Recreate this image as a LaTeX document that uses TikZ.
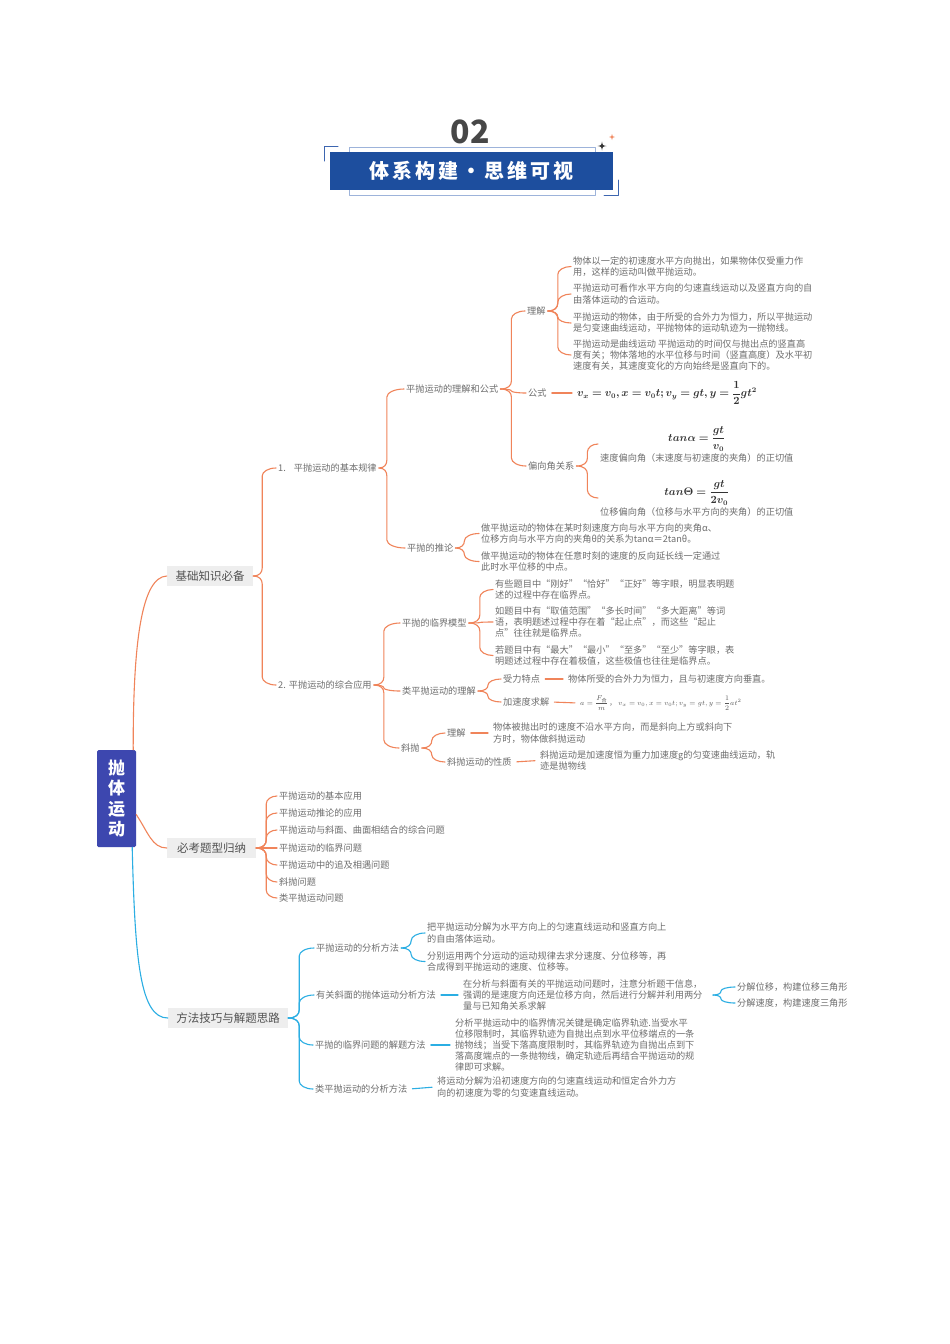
\documentclass[tikz,border=0pt]{standalone}
\usepackage{amsmath}
\usepackage{bm}
\usepackage[no-math]{fontspec}
\setmainfont{Noto Sans CJK SC}
\usetikzlibrary{calc}
\definecolor{orn}{HTML}{F0845A}
\definecolor{cyb}{HTML}{2BAEE3}
\definecolor{rootc}{HTML}{3D47AF}
\definecolor{hdr}{HTML}{1D4E9E}
\definecolor{hdrl}{HTML}{3D66B0}
\definecolor{frm}{HTML}{9DB3DA}
\definecolor{boxg}{HTML}{EEEEEE}
\definecolor{txg}{HTML}{6E6E6E}
\newcommand\fs{\fontsize{9.2}{11.2}\selectfont}
\newcommand\hsp{\hspace{3pt}}
\newcommand\fm{\fontsize{10.5}{12}\selectfont}
\begin{document}
\begin{tikzpicture}[x=1pt,y=-1pt,line cap=round,line join=round,
  tx/.style={anchor=west,inner sep=2pt,text=txg,font=\fs,align=left},
  gb/.style={fill=boxg,text=black!68,font=\fontsize{11.5}{13}\selectfont,inner sep=0pt,minimum height=20pt},
  ol/.style={orn,line width=1.1pt},
  bl/.style={cyb,line width=1.1pt},
  sl/.style={shorten <=3pt,shorten >=3pt},
  br/.style={to path={let \p1=(\tikztostart),\p2=(\tikztotarget),
     \n1={abs(\y2-\y1)},\n2={min(\n1/2,8)},\n3={sign(\y2-\y1)} in
     (\p1) .. controls ({\x1+0.7*#1},\y1) and ({\x1+#1},{\y1+0.45*\n3*\n2}) ..
     ({\x1+#1},{\y1+\n3*\n2}) -- ({\x1+#1},{\y2-\n3*\n2})
     .. controls ({\x1+#1},{\y2-0.45*\n3*\n2}) and ({\x1+#1+0.45*(\x2-\x1-#1)},\y2) .. (\p2)}},
  br/.default=9]
\useasboundingbox (0,0) rectangle (950,1344);
\fill[white] (0,0) rectangle (950,1344);

% ---------- header ----------
\draw[frm,line width=0.8pt] (349,147) rectangle (595,195);
\node[fill=hdr,minimum width=283pt,minimum height=38pt,inner sep=0pt,text=white,
  font=\fontsize{20}{20}\selectfont\bfseries] (ttl) at (471.5,171)
  {体\hsp 系\hsp 构\hsp 建\hsp ・\hsp 思\hsp 维\hsp 可\hsp 视};
\node[font=\fontsize{32}{32}\selectfont\bfseries,text=black!72,inner sep=0pt] (num) at (470,132) {02};
\draw[hdrl,line width=1pt] (338,146) -- (324,146) -- (324,161);
\draw[hdrl,line width=1pt] (618,180) -- (618,195) -- (604,195);
\fill[black!80] (602,141.5) .. controls (602.6,145.4) .. (606.5,146) .. controls (602.6,146.6) .. (602,150.5)
  .. controls (601.4,146.6) .. (597.5,146) .. controls (601.4,145.4) .. (602,141.5) -- cycle;
\fill[orn] (612,134) .. controls (612.4,136.6) .. (615,137) .. controls (612.4,137.4) .. (612,140)
  .. controls (611.6,137.4) .. (609,137) .. controls (611.6,136.6) .. (612,134) -- cycle;

% ---------- root and main branches ----------
\node[fill=rootc,rounded corners=1.5pt,minimum width=39pt,minimum height=97pt,inner sep=0pt,
  text=white,align=center,font=\fontsize{17}{20.5}\selectfont\bfseries] (rt) at (116.5,798.5) {抛\\体\\运\\动};
\node[gb,minimum width=86pt] (jc) at (210,576) {基础知识必备};
\node[gb,minimum width=89pt] (bk) at (211.5,848) {必考题型归纳};
\node[gb,minimum width=120pt] (ff) at (228,1018) {方法技巧与解题思路};
\draw[ol] ([xshift=-3pt]rt.north east) .. controls (133,640) and (142,577) .. (jc.west);
\draw[ol] ([yshift=-16pt]rt.east) .. controls (148,832) and (152,848) .. (bk.west);
\draw[bl] ([xshift=-4pt]rt.south east) .. controls (135,960) and (140,1018) .. (ff.west);

% ---------- 基础知识必备 ----------
\node[tx] (n1) at (276,468) {1.\hspace{8pt}平抛运动的基本规律};
\node[tx] (n2) at (276,685) {2.\hspace{3pt}平抛运动的综合应用};
\draw[ol] (jc.east) to[br=9] (n1.west);
\draw[ol] (jc.east) to[br=9] (n2.west);

\node[tx] (a1) at (404,389) {平抛运动的理解和公式};
\node[tx] (a2) at (405,548) {平抛的推论};
\draw[ol] (n1.east) to[br=8] (a1.west);
\draw[ol] (n1.east) to[br=8] (a2.west);

\node[tx] (b1) at (525,311) {理解};
\node[tx] (b2) at (526,393) {公式};
\node[tx] (b3) at (526,466) {偏向角关系};
\foreach \c in {b1,b2,b3} \draw[ol] (a1.east) to[br=11] (\c.west);

\node[tx] (c1) at (571,266.5) {物体以一定的初速度水平方向抛出，如果物体仅受重力作\\用，这样的运动叫做平抛运动。};
\node[tx] (c2) at (571,294) {平抛运动可看作水平方向的匀速直线运动以及竖直方向的自\\由落体运动的合运动。};
\node[tx] (c3) at (571,323) {平抛运动的物体，由于所受的合外力为恒力，所以平抛运动\\是匀变速曲线运动，平抛物体的运动轨迹为一抛物线。};
\node[tx] (c4) at (571,355) {平抛运动是曲线运动 平抛运动的时间仅与抛出点的竖直高\\度有关；物体落地的水平位移与时间（竖直高度）及水平初\\速度有关，其速度变化的方向始终是竖直向下的。};
\foreach \c in {c1,c2,c3,c4} \draw[ol] (b1.east) to[br=10] (\c.west);

\node[tx,text=black!80,font=\fm] (f1) at (575,393) {$\bm{v_x=v_0,x=v_0t;v_y=gt,y=\dfrac{1}{2}gt^2}$};
\draw[ol,sl] (b2.east) -- (f1.west);

\node[tx,align=center] (d1) at (598,444) {{\fm\color{black!80}$\bm{tan\alpha=\dfrac{gt}{v_0}}$}\\[1pt]速度偏向角（末速度与初速度的夹角）的正切值};
\node[tx,align=center] (d2) at (598,498) {{\fm\color{black!80}$\bm{tan\Theta=\dfrac{gt}{2v_0}}$}\\[1pt]位移偏向角（位移与水平方向的夹角）的正切值};
\foreach \c in {d1,d2} \draw[ol] (b3.east) to[br=11] (\c.west);

\node[tx] (e1) at (479,533.5) {做平抛运动的物体在某时刻速度方向与水平方向的夹角α、\\位移方向与水平方向的夹角θ的关系为tanα＝2tanθ。};
\node[tx] (e2) at (479,561.5) {做平抛运动的物体在任意时刻的速度的反向延长线一定通过\\此时水平位移的中点。};
\foreach \c in {e1,e2} \draw[ol] (a2.east) to[br=9] (\c.west);

\node[tx] (g1) at (400,623) {平抛的临界模型};
\node[tx] (g2) at (400,691) {类平抛运动的理解};
\node[tx] (g3) at (399,748) {斜抛};
\foreach \c in {g1,g2,g3} \draw[ol] (n2.east) to[br=10] (\c.west);

\node[tx] (h1) at (493,589.5) {有些题目中“刚好”“恰好”“正好”等字眼，明显表明题\\述的过程中存在临界点。};
\node[tx] (h2) at (493,622) {如题目中有“取值范围”“多长时间”“多大距离”等词\\语，表明题述过程中存在着“起止点”，而这些“起止\\点”往往就是临界点。};
\node[tx] (h3) at (493,655.5) {若题目中有“最大”“最小”“至多”“至少”等字眼，表\\明题述过程中存在着极值，这些极值也往往是临界点。};
\foreach \c in {h1,h2,h3} \draw[ol] (g1.east) to[br=11] (\c.west);

\node[tx] (i1) at (501,679) {受力特点};
\node[tx] (i2) at (501,702) {加速度求解};
\foreach \c in {i1,i2} \draw[ol] (g2.east) to[br=10] (\c.west);
\node[tx] (i1t) at (566,679) {物体所受的合外力为恒力，且与初速度方向垂直。};
\node[tx,text=black!65,font=\fontsize{7}{8}\selectfont] (i2f) at (578,703) {$a=\dfrac{F_{\text{合}}}{m}$\,，\;$v_x=v_0,x=v_0t;v_y=gt,y=\dfrac{1}{2}at^2$};
\draw[ol,sl] (i1.east) -- (i1t.west);
\draw[ol,sl] (i2.east) -- (i2f.west);

\node[tx] (j1) at (445,733) {理解};
\node[tx] (j2) at (445,762) {斜抛运动的性质};
\foreach \c in {j1,j2} \draw[ol] (g3.east) to[br=10] (\c.west);
\node[tx] (j1t) at (491,733) {物体被抛出时的速度不沿水平方向，而是斜向上方或斜向下\\方时，物体做斜抛运动};
\node[tx] (j2t) at (538,760.5) {斜抛运动是加速度恒为重力加速度g的匀变速曲线运动，轨\\迹是抛物线};
\draw[ol,sl] (j1.east) -- (j1t.west);
\draw[ol,sl] (j2.east) -- (j2t.west);

% ---------- 必考题型归纳 ----------
\node[tx] (k1) at (277,796) {平抛运动的基本应用};
\node[tx] (k2) at (277,813) {平抛运动推论的应用};
\node[tx] (k3) at (277,830) {平抛运动与斜面、曲面相结合的综合问题};
\node[tx] (k4) at (277,848) {平抛运动的临界问题};
\node[tx] (k5) at (277,865) {平抛运动中的追及相遇问题};
\node[tx] (k6) at (277,882) {斜抛问题};
\node[tx] (k7) at (277,898) {类平抛运动问题};
\foreach \c in {k1,k2,k3,k4,k5,k6,k7} \draw[ol] (bk.east) to[br=10] (\c.west);

% ---------- 方法技巧与解题思路 ----------
\node[tx] (m1) at (314,948) {平抛运动的分析方法};
\node[tx] (m2) at (314,995) {有关斜面的抛体运动分析方法};
\node[tx] (m3) at (313,1045) {平抛的临界问题的解题方法};
\node[tx] (m4) at (313,1089) {类平抛运动的分析方法};
\foreach \c in {m1,m2,m3,m4} \draw[bl] (ff.east) to[br=11] (\c.west);

\node[tx] (m1a) at (425,933) {把平抛运动分解为水平方向上的匀速直线运动和竖直方向上\\的自由落体运动。};
\node[tx] (m1b) at (425,961.5) {分别运用两个分运动的运动规律去求分速度、分位移等，再\\合成得到平抛运动的速度、位移等。};
\foreach \c in {m1a,m1b} \draw[bl] (m1.east) to[br=10] (\c.west);

\node[tx] (m2t) at (461,995) {在分析与斜面有关的平抛运动问题时，注意分析题干信息，\\强调的是速度方向还是位移方向，然后进行分解并利用两分\\量与已知角关系求解};
\draw[bl,sl] (m2.east) -- (m2t.west);
\coordinate (m2c) at (713,995);
\node[tx] (p1) at (735,987) {分解位移，构建位移三角形};
\node[tx] (p2) at (735,1003) {分解速度，构建速度三角形};
\foreach \c in {p1,p2} \draw[bl] (m2c) to[br=8] (\c.west);

\node[tx] (m3t) at (453,1045) {分析平抛运动中的临界情况关键是确定临界轨迹.当受水平\\位移限制时，其临界轨迹为自抛出点到水平位移端点的一条\\抛物线；当受下落高度限制时，其临界轨迹为自抛出点到下\\落高度端点的一条抛物线，确定轨迹后再结合平抛运动的规\\律即可求解。};
\draw[bl,sl] (m3.east) -- (m3t.west);
\node[tx] (m4t) at (435,1087) {将运动分解为沿初速度方向的匀速直线运动和恒定合外力方\\向的初速度为零的匀变速直线运动。};
\draw[bl,sl] (m4.east) -- (m4t.west);
\end{tikzpicture}
\end{document}
